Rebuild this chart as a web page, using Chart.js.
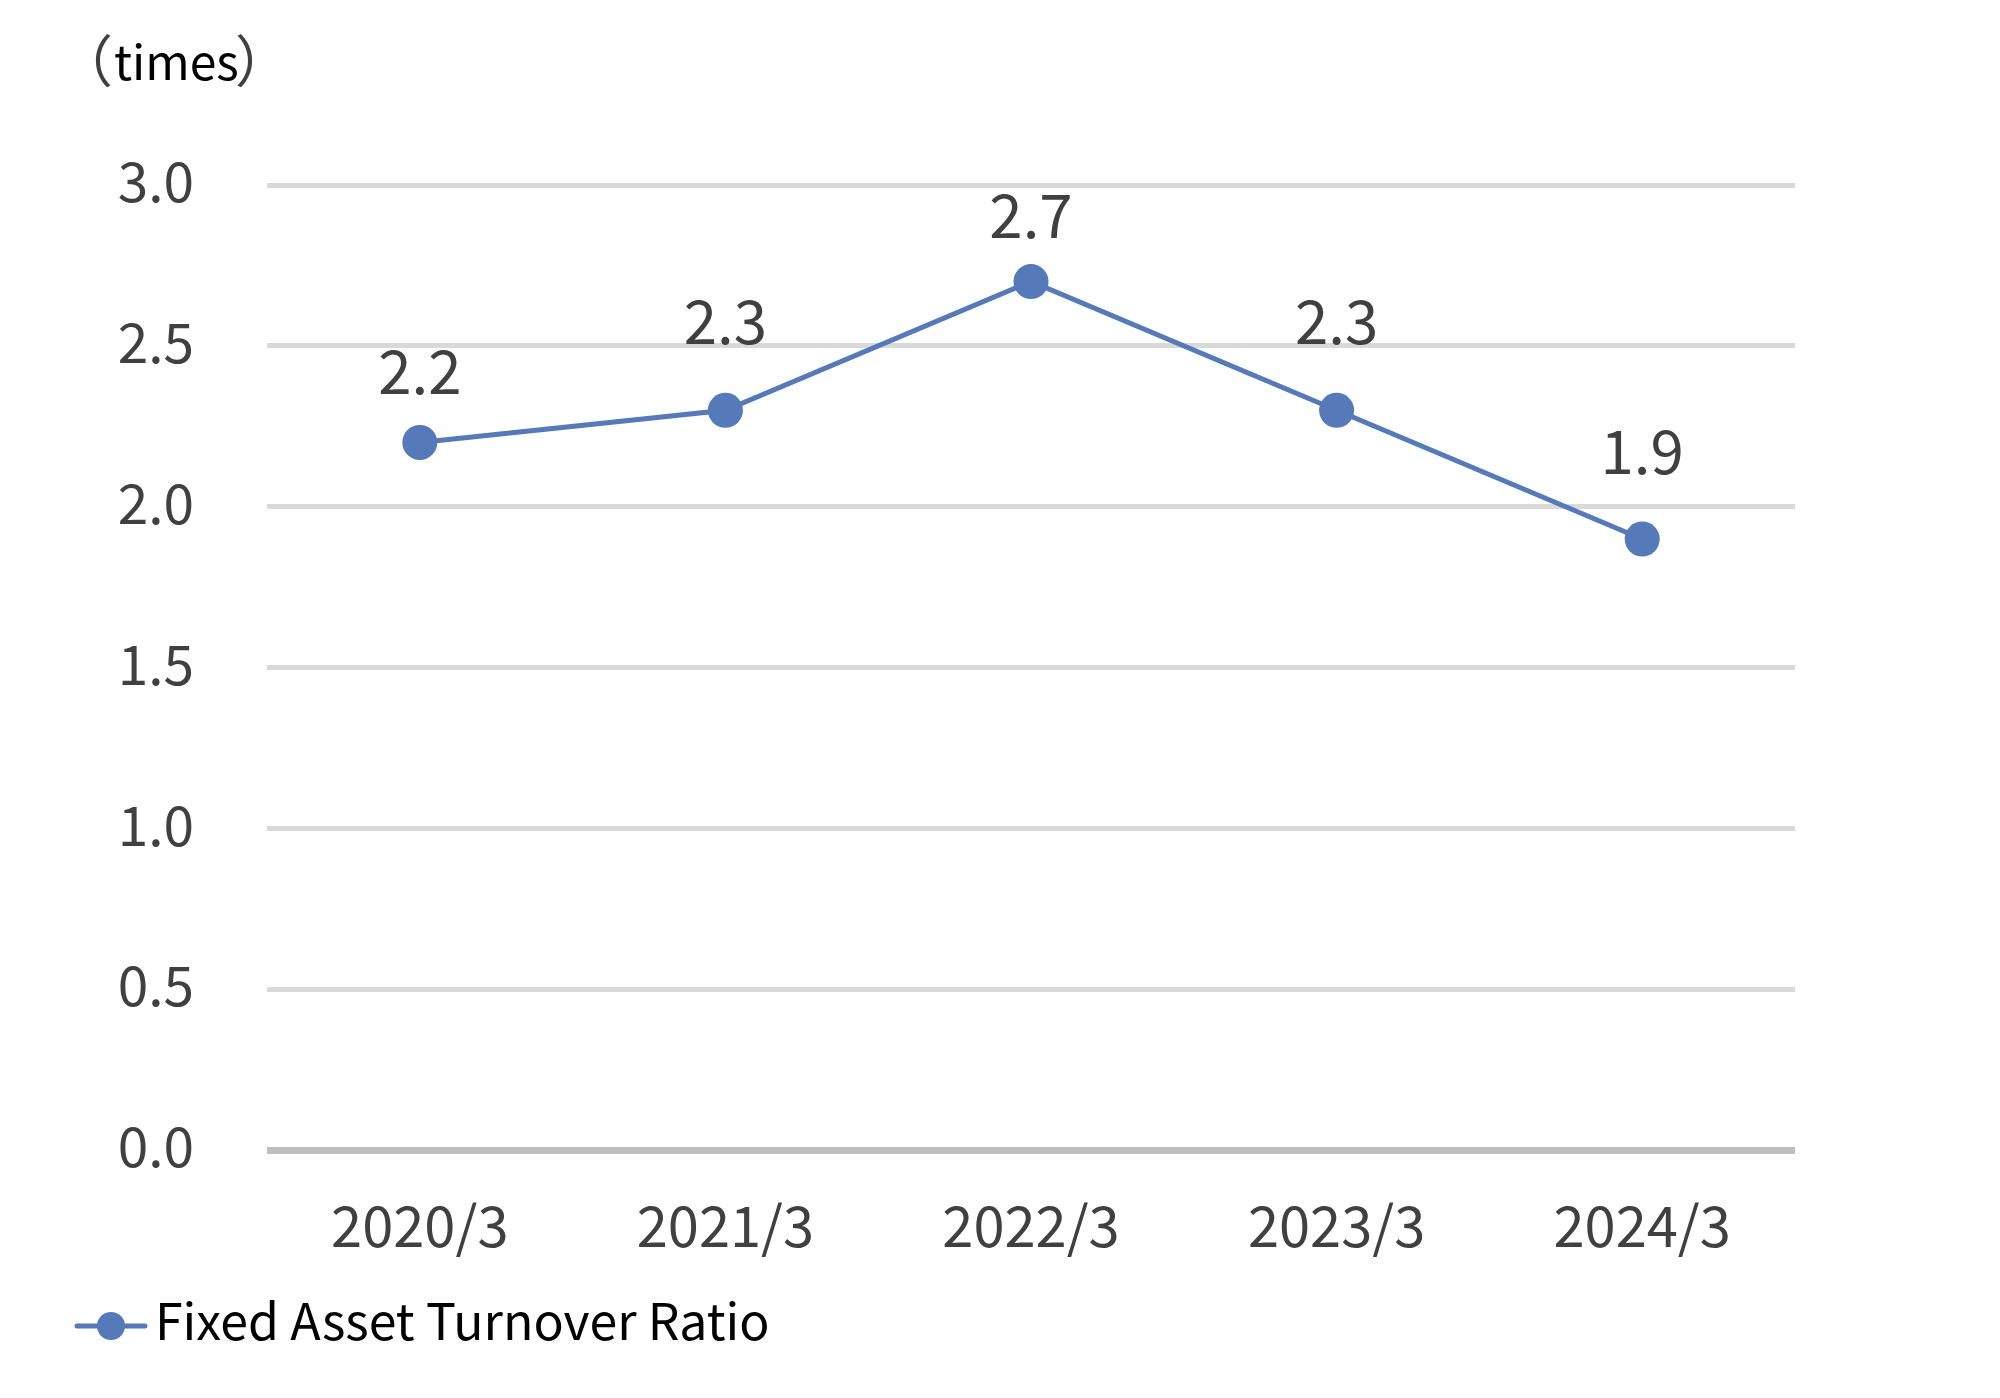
<!DOCTYPE html>
<html>
<head>
<meta charset="utf-8">
<script src="https://cdn.jsdelivr.net/npm/chart.js@4.4.0/dist/chart.umd.min.js"></script>
<style>
  html, body { margin: 0; padding: 0; background: #fff; }
</style>
</head>
<body>
<canvas id="chart" width="2000" height="1398"></canvas>
<script>
var categories = ["2020/3", "2021/3", "2022/3", "2023/3", "2024/3"];
var turnover = [2.2, 2.3, 2.7, 2.3, 1.9];
var yTicks = [0, 0.5, 1.0, 1.5, 2.0, 2.5, 3.0];
var seriesName = "Fixed Asset Turnover Ratio";
var unitParts = ["（", "times", "）"];

var FONT = "'Noto Sans CJK JP', 'Noto Sans', sans-serif";
var BLUE = "#5579b9";

// value labels sit above the points, each a little different like in the original
var labelPlugin = {
    id: "valueLabels",
    afterDatasetsDraw: function (chart, args, opts) {
        var ctx = chart.ctx;
        var meta = chart.getDatasetMeta(0);
        ctx.save();
        ctx.font = "60px " + FONT;
        ctx.fillStyle = "#404040";
        ctx.textAlign = "center";
        ctx.textBaseline = "middle";
        meta.data.forEach(function (pt, i) {
            ctx.fillText(turnover[i].toFixed(1), pt.x, pt.y - opts.offsets[i]);
        });
        ctx.restore();
    }
};

// unit caption on top and the legend under the axis
var extrasPlugin = {
    id: "extras",
    afterDraw: function (chart) {
        var ctx = chart.ctx;
        ctx.save();
        ctx.textAlign = "left";
        ctx.textBaseline = "alphabetic";

        // （times） - place the ink of each piece
        ctx.font = "56px " + FONT;
        ctx.fillStyle = "#404040";
        var m = ctx.measureText(unitParts[0]);
        ctx.fillText(unitParts[0], 95 + m.actualBoundingBoxLeft, 82);
        m = ctx.measureText(unitParts[2]);
        ctx.fillText(unitParts[2], 253 - m.actualBoundingBoxRight, 82);
        ctx.font = "48px " + FONT;
        ctx.fillStyle = "#000";
        m = ctx.measureText(unitParts[1]);
        ctx.fillText(unitParts[1], 115 + m.actualBoundingBoxLeft, 80);

        // legend
        ctx.strokeStyle = BLUE;
        ctx.lineWidth = 5;
        ctx.lineCap = "round";
        ctx.beginPath();
        ctx.moveTo(77, 1326);
        ctx.lineTo(145, 1326);
        ctx.stroke();
        ctx.fillStyle = BLUE;
        ctx.beginPath();
        ctx.arc(111, 1326, 14, 0, Math.PI * 2);
        ctx.fill();
        ctx.fillStyle = "#000";
        ctx.font = "50px " + FONT;
        ctx.fillText(seriesName, 155, 1340);
        ctx.restore();
    }
};

var ctx = document.getElementById("chart");

var myChart = new Chart(ctx, {
    type: "line",
    data: {
        labels: categories,
        datasets: [{
            label: seriesName,
            data: turnover,
            borderColor: BLUE,
            backgroundColor: BLUE,
            borderWidth: 5,
            pointRadius: 17.5,
            pointHoverRadius: 17.5,
            pointBorderWidth: 0,
            pointBackgroundColor: BLUE,
            tension: 0,
            clip: false
        }]
    },
    options: {
        responsive: false,
        animation: false,
        devicePixelRatio: 1,
        layout: {
            padding: { left: 0, top: 185, right: 205, bottom: 0 }
        },
        plugins: {
            legend: { display: false },
            tooltip: { enabled: false },
            valueLabels: { offsets: [71, 89, 66, 89, 88] }
        },
        scales: {
            x: {
                offset: true,
                grid: { display: false, drawTicks: false },
                border: { display: false },
                ticks: {
                    color: "#404040",
                    font: { family: FONT, size: 56 },
                    padding: 42,
                    maxRotation: 0
                },
                afterFit: function (scale) { scale.height = 247.5; }
            },
            y: {
                min: 0,
                max: 3,
                grid: {
                    drawTicks: false,
                    color: function (c) { return c.tick && c.tick.value === 0 ? "#bfbfbf" : "#d9d9d9"; },
                    lineWidth: function (c) { return c.tick && c.tick.value === 0 ? 7 : 5; }
                },
                border: { display: false },
                afterBuildTicks: function (scale) {
                    scale.ticks = yTicks.map(function (v) { return { value: v }; });
                },
                ticks: {
                    color: "#404040",
                    font: { family: FONT, size: 55 },
                    padding: 73,
                    labelOffset: -4,
                    callback: function (v) { return Number(v).toFixed(1); }
                },
                afterFit: function (scale) { scale.width = 267; }
            }
        }
    },
    plugins: [labelPlugin, extrasPlugin]
});
</script>
</body>
</html>
